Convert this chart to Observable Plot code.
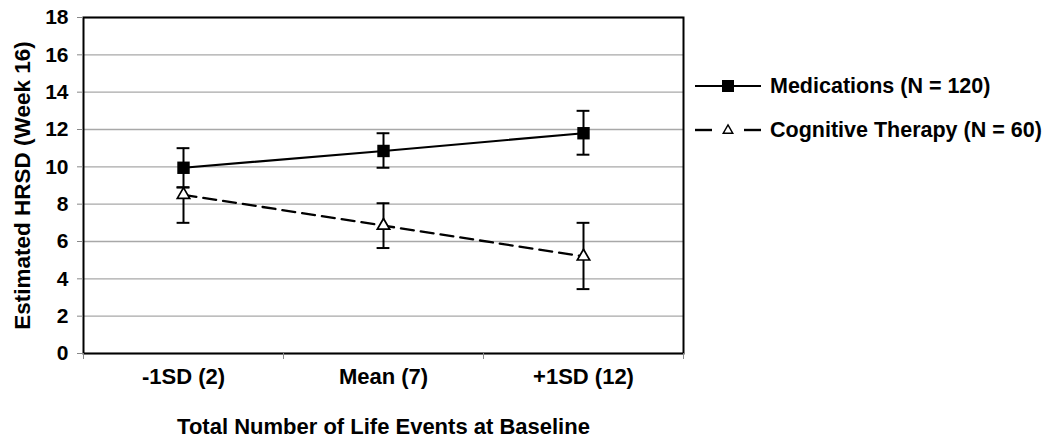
<!DOCTYPE html>
<html><head><meta charset="utf-8">
<script src="https://cdn.jsdelivr.net/npm/d3@7"></script>
<script src="https://cdn.jsdelivr.net/npm/@observablehq/plot@0.6"></script>
<style>
body{margin:0;background:#fff;font-family:"Liberation Sans",Arial,sans-serif;}
#wrap{position:relative;width:1050px;height:443px;}
#legend{position:absolute;left:694px;top:64px;font-weight:bold;font-size:21.5px;color:#000;}
.row{display:flex;align-items:center;height:44px;white-space:nowrap;}
.row svg{margin-right:8px;}
</style></head><body><div id="wrap"><div id="legend"></div></div>
<script>
const categories = ["-1SD (2)", "Mean (7)", "+1SD (12)"];
const seriesNames = ["Medications (N = 120)", "Cognitive Therapy (N = 60)"];
const medMean = [9.95, 10.85, 11.8];
const medLow = [8.9, 9.95, 10.65];
const medHigh = [11.0, 11.8, 13.0];
const ctMean = [8.5, 6.85, 5.2];
const ctLow = [7.0, 5.65, 3.45];
const ctHigh = [8.9, 8.05, 7.0];
const yTicks = [0, 2, 4, 6, 8, 10, 12, 14, 16, 18];
const xLabel = "Total Number of Life Events at Baseline";
const yLabel = "Estimated HRSD (Week 16)";

const med = categories.map((c, i) => ({cat: c, xi: i + 0.5, mean: medMean[i], low: medLow[i], high: medHigh[i]}));
const ct = categories.map((c, i) => ({cat: c, xi: i + 0.5, mean: ctMean[i], low: ctLow[i], high: ctHigh[i]}));
const all = med.concat(ct);
const cap = 0.032;

const chart = Plot.plot({
  width: 1050, height: 443,
  marginLeft: 83, marginRight: 367, marginTop: 17, marginBottom: 90,
  style: {fontFamily: "'Liberation Sans', Arial, sans-serif", fontWeight: "bold", fontSize: "21px", color: "#000", background: "#fff"},
  x: {domain: [0, 3]},
  y: {domain: [0, 18]},
  marks: [
    Plot.gridY(yTicks, {stroke: "#a8a8a8", strokeOpacity: 1, strokeWidth: 1.3}),
    Plot.line(med, {x: "xi", y: "mean", stroke: "#000", strokeWidth: 2.1}),
    Plot.line(ct, {x: "xi", y: "mean", stroke: "#000", strokeWidth: 2.3, strokeDasharray: "13,7"}),
    Plot.ruleX(all, {x: "xi", y1: "low", y2: "high", stroke: "#000", strokeWidth: 2}),
    Plot.ruleY(all, {y: "low", x1: d => d.xi - cap, x2: d => d.xi + cap, stroke: "#000", strokeWidth: 2}),
    Plot.ruleY(all, {y: "high", x1: d => d.xi - cap, x2: d => d.xi + cap, stroke: "#000", strokeWidth: 2}),
    Plot.dot(med, {x: "xi", y: "mean", symbol: "square", r: 7, fill: "#000", stroke: "none"}),
    Plot.dot(ct, {x: "xi", y: "mean", symbol: "triangle", r: 4.6, fill: "#fff", stroke: "#000", strokeWidth: 1.7}),
    Plot.frame({stroke: "#000", strokeWidth: 2}),
    Plot.axisY({ticks: yTicks, tickSize: 6, tickPadding: 9, stroke: "#888", fontSize: 21, label: null}),
    Plot.axisY({ticks: [], fontSize: 22.5,
      label: yLabel, labelAnchor: "center", labelArrow: "none", labelOffset: 69}),
    Plot.axisX({ticks: [0, 1, 2, 3], tickFormat: () => "", tickSize: 6, stroke: "#888", fontSize: 22,
      label: xLabel, labelAnchor: "center", labelArrow: "none", labelOffset: 80}),
    Plot.text(categories, {x: (d, i) => i + 0.5, frameAnchor: "bottom", dy: 30, text: d => d, fontSize: 22, fontWeight: "bold", fill: "#000"})
  ]
});
document.getElementById("wrap").prepend(chart);

// legend
const legend = document.getElementById("legend");
function addRow(name, dashed, symbol) {
  const row = document.createElement("div");
  row.className = "row";
  const ns = "http://www.w3.org/2000/svg";
  const svg = document.createElementNS(ns, "svg");
  svg.setAttribute("width", 68); svg.setAttribute("height", 20);
  if (dashed) {
    svg.innerHTML = `<line x1="1" x2="18" y1="10" y2="10" stroke="#000" stroke-width="2.4"/><line x1="50" x2="67" y1="10" y2="10" stroke="#000" stroke-width="2.4"/>`;
  } else {
    svg.innerHTML = `<line x1="1" x2="67" y1="10" y2="10" stroke="#000" stroke-width="2"/>`;
  }
  if (symbol === "square") svg.innerHTML += `<rect x="28" y="4" width="12" height="12" fill="#000"/>`;
  else svg.innerHTML += `<path d="${d3.symbol(d3.symbolTriangle, 40)()}" transform="translate(34,10.5)" fill="#fff" stroke="#000" stroke-width="1.4"/>`;
  row.appendChild(svg);
  const t = document.createElement("span");
  t.textContent = name;
  row.appendChild(t);
  legend.appendChild(row);
}
addRow(seriesNames[0], false, "square");
addRow(seriesNames[1], true, "triangle");
</script></body></html>
